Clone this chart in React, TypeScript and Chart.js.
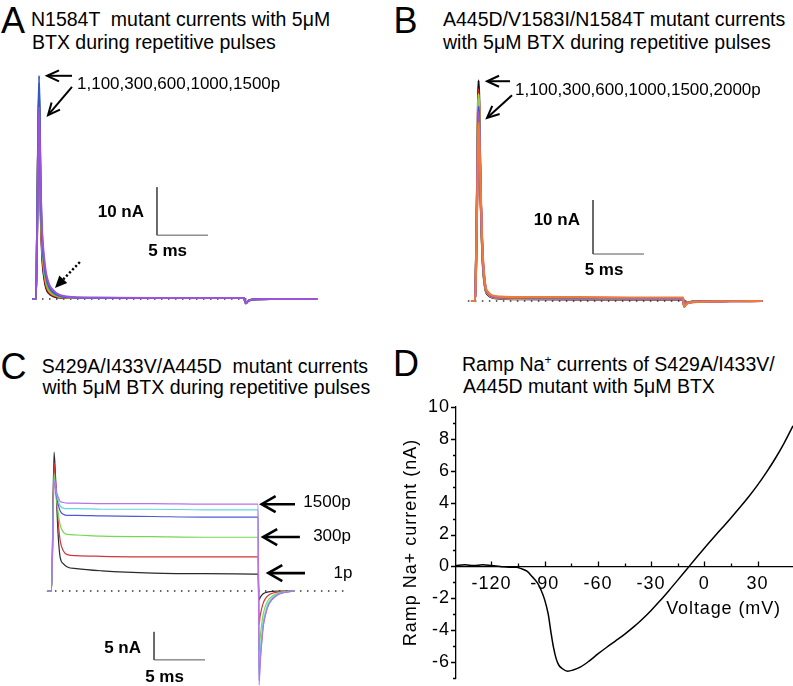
import React, { useEffect, useRef } from "react";
import { Chart, registerables } from "chart.js";

Chart.register(...registerables);

const FONT = "'Liberation Sans', Arial, Helvetica, sans-serif";
Chart.defaults.font.family = FONT;
Chart.defaults.color = "#000";

// ================= DATA =================
// Panel A: N1584T, time (ms) and current (nA) per pulse number
const aTime = [-0.3, 0, 0.15, 0.3, 0.45, 0.6, 0.8, 1.0, 1.3, 1.7, 2.2, 3.0, 4.0, 6, 12, 20.4, 20.55, 20.8, 21.3, 23, 27.5];
const aP1 = [0, 0, 22, 43, 19, 9, 4.4, 2.2, 1.1, 0.55, 0.3, 0.2, 0.2, 0.2, 0.2, 0.2, -0.9, -0.4, -0.1, 0, 0];
const aP100 = [0, 0, 22, 44, 20, 10, 5.0, 2.6, 1.3, 0.7, 0.4, 0.25, 0.2, 0.2, 0.2, 0.2, -0.9, -0.4, -0.1, 0, 0];
const aP300 = [0, 0, 22, 44, 21, 11, 5.8, 3.2, 1.6, 0.9, 0.5, 0.3, 0.25, 0.2, 0.2, 0.2, -0.9, -0.4, -0.1, 0, 0];
const aP600 = [0, 0, 22, 45, 22, 12, 6.5, 3.8, 2.0, 1.1, 0.6, 0.35, 0.25, 0.22, 0.2, 0.2, -0.9, -0.4, -0.1, 0, 0];
const aP1000 = [0, 0, 23, 46.5, 24, 13, 7.5, 4.5, 2.5, 1.4, 0.75, 0.4, 0.28, 0.25, 0.2, 0.2, -0.9, -0.4, -0.1, 0, 0];
const aP1500 = [0, 0, 20, 40, 24, 14, 8.5, 5.2, 3.0, 1.8, 0.95, 0.5, 0.3, 0.25, 0.2, 0.2, -0.9, -0.4, -0.1, 0, 0];
const aBaselineSpan = [-0.1, 27.9];

// Panel B: A445D/V1583I/N1584T
const bTime = [-0.3, 0, 0.2, 0.35, 0.55, 0.75, 1.0, 1.3, 1.7, 2.5, 5, 10, 15, 20.4, 20.5, 20.7, 21, 22, 25, 28.1];
const bP1 = [0, 0, 20, 40.8, 20, 7.6, 2.4, 1.1, 0.65, 0.45, 0.35, 0.3, 0.3, 0.3, -0.85, -0.4, -0.2, -0.1, 0, 0];
const bP100 = [0, 0, 20, 39.2, 20, 7.8, 2.5, 1.2, 0.7, 0.5, 0.4, 0.35, 0.35, 0.35, -0.9, -0.45, -0.2, -0.1, 0, 0];
const bP300 = [0, 0, 19, 38.3, 20, 8, 2.6, 1.25, 0.75, 0.55, 0.45, 0.4, 0.4, 0.4, -0.9, -0.45, -0.2, -0.1, 0, 0];
const bP600 = [0, 0, 19, 37.5, 20, 8, 2.7, 1.3, 0.8, 0.6, 0.5, 0.45, 0.45, 0.45, -0.9, -0.5, -0.25, -0.1, 0, 0];
const bP1000 = [0, 0, 18, 36, 20, 8.3, 2.8, 1.4, 0.85, 0.65, 0.55, 0.5, 0.5, 0.5, -1.0, -0.5, -0.25, -0.1, -0.05, 0];
const bP1500 = [0, 0, 18, 35, 20, 8.5, 2.9, 1.5, 0.9, 0.7, 0.6, 0.6, 0.55, 0.55, -1.0, -0.55, -0.3, -0.15, -0.05, 0];
const bP2000 = [0, 0, 17, 33, 21, 9, 3.1, 1.6, 1.0, 0.8, 0.7, 0.7, 0.65, 0.65, -1.1, -0.6, -0.3, -0.15, -0.05, 0];
const bBaselineSpan = [-0.7, 28.2];

// Panel C: S429A/I433V/A445D
const cTime = [-0.35, 0.05, 0.3, 0.5, 0.7, 0.9, 1.2, 1.6, 2.5, 5, 10, 15, 20.3, 20.4, 20.5, 20.65, 20.8, 21.0, 21.3, 21.7, 22.3, 23, 23.8];
const cP1 = [0, 0, 24.8, 18, 10, 6, 4.9, 4.3, 4.0, 3.6, 3.2, 3.1, 3.0, -1.6, -1.2, -0.8, -0.5, -0.3, -0.15, -0.05, 0, 0, 0];
const cP100 = [0, 0, 22.9, 18, 12.5, 9, 7.2, 6.5, 6.3, 6.2, 6.1, 6.1, 6.1, -6, -4.5, -3.2, -2.2, -1.4, -0.8, -0.4, -0.15, -0.05, 0];
const cP300 = [0, 0, 20.8, 17, 14, 11.8, 10.5, 10.1, 10.0, 9.8, 9.7, 9.6, 9.6, -11, -8.5, -6, -4.2, -2.8, -1.6, -0.9, -0.35, -0.1, 0];
const cP600 = [0, 0, 19.8, 17.5, 15.5, 14.3, 13.7, 13.5, 13.5, 13.4, 13.3, 13.2, 13.2, -16, -12.5, -9, -6.2, -4.3, -2.5, -1.4, -0.55, -0.2, 0];
const cP1000 = [0, 0, 19.8, 17.8, 16.2, 15.2, 14.8, 14.7, 14.7, 14.6, 14.6, 14.5, 14.5, -15, -11.5, -8.3, -5.7, -3.9, -2.2, -1.2, -0.5, -0.15, 0];
const cP1500 = [0, 0, 19.5, 18, 16.8, 16, 15.8, 15.7, 15.7, 15.6, 15.6, 15.5, 15.5, -16.8, -13, -9.5, -6.5, -4.5, -2.6, -1.5, -0.6, -0.2, 0];
const cBaselineSpan = [-0.3, 29.0];

// Panel D: ramp I-V
const rampVoltage = [-140, -135, -130, -125, -120, -115, -110, -106, -103, -100, -97, -94, -92, -90, -88, -86.5, -85, -83.5, -82, -80, -77, -74, -70, -65, -60, -55, -50, -45, -40, -35, -30, -25, -20, -15, -10, -5, 0, 5, 10, 15, 20, 25, 30, 35, 40, 45, 50];
const rampCurrent = [0.05, 0.1, 0.05, 0.1, 0.05, 0.0, -0.05, -0.05, -0.15, -0.3, -0.65, -1.05, -1.5, -2.1, -3.0, -4.1, -5.1, -5.8, -6.2, -6.42, -6.57, -6.5, -6.32, -5.94, -5.49, -5.07, -4.67, -4.26, -3.81, -3.31, -2.76, -2.16, -1.52, -0.86, -0.19, 0.48, 1.14, 1.78, 2.41, 3.04, 3.69, 4.37, 5.1, 5.9, 6.77, 7.74, 8.82];
const voltageTicks = [-120, -90, -60, -30, 0, 30];
const currentTicks = [-6, -4, -2, 0, 2, 4, 6, 8, 10];

// ================= HELPERS =================
type Box = { left: number; top: number; width: number; height: number };
type Frame = { box: Box; x0: number; y0: number; pxX: number; pxY: number };

function ranges(f: Frame) {
  const { box, x0, y0, pxX, pxY } = f;
  return {
    xmin: (box.left - x0) / pxX,
    xmax: (box.left + box.width - x0) / pxX,
    ymax: (y0 - box.top) / pxY,
    ymin: (y0 - (box.top + box.height)) / pxY,
  };
}

function trace(label: string, t: number[], v: number[], color: string, width: number, order: number) {
  return {
    label,
    data: t.map((x, i) => ({ x, y: v[i] })),
    borderColor: color,
    borderWidth: width,
    borderCapStyle: "round",
    borderJoinStyle: "round",
    pointRadius: 0,
    cubicInterpolationMode: "monotone",
    fill: false,
    order,
  };
}

function baseline(span: number[], order: number) {
  return {
    label: "baseline",
    data: span.map((x) => ({ x, y: 0 })),
    borderColor: "#333",
    borderWidth: 1.5,
    borderDash: [1.5, 5.5],
    borderCapStyle: "butt",
    pointRadius: 0,
    tension: 0,
    fill: false,
    order,
  };
}

function scaleBar(corner: { t: number; i: number; dt: number; di: number }, order: number) {
  return {
    label: "scale",
    data: [
      { x: corner.t, y: corner.i + corner.di },
      { x: corner.t, y: corner.i },
      { x: corner.t + corner.dt, y: corner.i },
    ],
    borderColor: "#555",
    borderWidth: 1,
    borderCapStyle: "butt",
    borderJoinStyle: "miter",
    pointRadius: 0,
    tension: 0,
    fill: false,
    order,
  };
}

type Arrow = { from: [number, number]; to: [number, number]; dotted?: boolean };
type Label = { at: [number, number]; text: string; align: CanvasTextAlign; bold?: boolean };
type ArrowStyle = { lw: number; head: number; half: number; font: number };

function annotate(arrows: Arrow[], labels: Label[], st: ArrowStyle) {
  return {
    id: "annotate",
    afterDatasetsDraw(chart: any) {
      const ctx: CanvasRenderingContext2D = chart.ctx;
      const xs = chart.scales.x;
      const ys = chart.scales.y;
      const P = (p: [number, number]) => [xs.getPixelForValue(p[0]), ys.getPixelForValue(p[1])];
      ctx.save();
      ctx.strokeStyle = "#000";
      ctx.fillStyle = "#000";
      for (const a of arrows) {
        const [fx, fy] = P(a.from);
        const [tx, ty] = P(a.to);
        const ang = Math.atan2(ty - fy, tx - fx);
        const back = ang + Math.PI;
        const spread = Math.atan2(st.half, st.head);
        const L = Math.hypot(st.head, st.half);
        const p1 = [tx + L * Math.cos(back - spread), ty + L * Math.sin(back - spread)];
        const p2 = [tx + L * Math.cos(back + spread), ty + L * Math.sin(back + spread)];
        if (a.dotted) {
          const hx = tx + st.head * Math.cos(back);
          const hy = ty + st.head * Math.sin(back);
          ctx.setLineDash([2.2, 2.2]);
          ctx.lineWidth = 2.4;
          ctx.beginPath();
          ctx.moveTo(fx, fy);
          ctx.lineTo(hx, hy);
          ctx.stroke();
          ctx.setLineDash([]);
          ctx.beginPath();
          ctx.moveTo(tx, ty);
          ctx.lineTo(p1[0], p1[1]);
          ctx.lineTo(p2[0], p2[1]);
          ctx.closePath();
          ctx.fill();
        } else {
          ctx.lineWidth = st.lw;
          ctx.lineJoin = "miter";
          ctx.beginPath();
          ctx.moveTo(fx, fy);
          ctx.lineTo(tx + 1 * Math.cos(back), ty + 1 * Math.sin(back));
          ctx.stroke();
          ctx.beginPath();
          ctx.moveTo(p1[0], p1[1]);
          ctx.lineTo(tx, ty);
          ctx.lineTo(p2[0], p2[1]);
          ctx.stroke();
        }
      }
      for (const l of labels) {
        const [x, y] = P(l.at);
        ctx.font = `${l.bold ? "bold " : ""}${st.font}px ${FONT}`;
        ctx.textAlign = l.align;
        ctx.textBaseline = "middle";
        ctx.fillText(l.text, x, y);
      }
      ctx.restore();
    },
  };
}

function traceConfig(frame: Frame, datasets: any[], plugin: any) {
  const r = ranges(frame);
  return {
    type: "line",
    data: { datasets },
    options: {
      animation: false,
      responsive: false,
      events: [],
      layout: { padding: 0 },
      plugins: { legend: { display: false }, tooltip: { enabled: false }, title: { display: false } },
      scales: {
        x: { type: "linear", min: r.xmin, max: r.xmax, display: false },
        y: { type: "linear", min: r.ymin, max: r.ymax, display: false },
      },
    },
    plugins: [plugin],
  };
}

// ================= PANEL CONFIGS =================
const frameA: Frame = { box: { left: 0, top: 55, width: 400, height: 265 }, x0: 36, y0: 299, pxX: 10.2, pxY: 4.8 };
const frameB: Frame = { box: { left: 400, top: 55, width: 393, height: 265 }, x0: 475, y0: 301, pxX: 10.2, pxY: 5.4 };
const frameC: Frame = { box: { left: 0, top: 420, width: 400, height: 266 }, x0: 51, y0: 591, pxX: 10.2, pxY: 5.6 };
const boxD: Box = { left: 400, top: 392, width: 393, height: 294 };

const styleAB: ArrowStyle = { lw: 2, head: 12, half: 5.5, font: 17 };
const styleC: ArrowStyle = { lw: 2.6, head: 14, half: 8, font: 17 };

function configA() {
  const ds = [
    trace("1500p", aTime, aP1500, "#9b52dc", 2, 0),
    trace("1000p", aTime, aP1000, "#3556cc", 2, 1),
    trace("600p", aTime, aP600, "#4fbf5a", 2, 2),
    trace("300p", aTime, aP300, "#e0b020", 2, 3),
    trace("100p", aTime, aP100, "#d02020", 2, 4),
    trace("1p", aTime, aP1, "#111111", 2, 5),
    scaleBar({ t: 11.86, i: 13.3, dt: 5, di: 10 }, 6),
    baseline(aBaselineSpan, 7),
  ];
  const plugin = annotate(
    [
      { from: [3.53, 46.5], to: [1.08, 46.5] },
      { from: [3.53, 44.2], to: [1.18, 38.3] },
      { from: [4.3, 7.7], to: [1.86, 2.3], dotted: true },
    ],
    [
      { at: [4.02, 44.8], text: "1,100,300,600,1000,1500p", align: "left" },
      { at: [10.59, 18.1], text: "10 nA", align: "right", bold: true },
      { at: [12.9, 10.0], text: "5 ms", align: "center", bold: true },
    ],
    styleAB
  );
  return traceConfig(frameA, ds, plugin);
}

function configB() {
  const ds = [
    trace("2000p", bTime, bP2000, "#f07a3a", 2.2, 0),
    trace("1500p", bTime, bP1500, "#a050e0", 2.2, 1),
    trace("1000p", bTime, bP1000, "#4050d0", 2.2, 2),
    trace("600p", bTime, bP600, "#90d040", 2.2, 3),
    trace("300p", bTime, bP300, "#d8c020", 2.2, 4),
    trace("100p", bTime, bP100, "#d02020", 2.2, 5),
    trace("1p", bTime, bP1, "#111111", 2.2, 6),
    scaleBar({ t: 11.57, i: 8.7, dt: 5, di: 10 }, 7),
    baseline(bBaselineSpan, 8),
  ];
  const plugin = annotate(
    [
      { from: [3.43, 40.7], to: [1.18, 40.7] },
      { from: [3.63, 38.1], to: [1.18, 33.9] },
    ],
    [
      { at: [3.92, 39.1], text: "1,100,300,600,1000,1500,2000p", align: "left" },
      { at: [10.29, 15.0], text: "10 nA", align: "right", bold: true },
      { at: [12.65, 5.74], text: "5 ms", align: "center", bold: true },
    ],
    styleAB
  );
  return traceConfig(frameB, ds, plugin);
}

function configC() {
  const ds = [
    trace("1500p", cTime, cP1500, "#b874e6", 1.2, 0),
    trace("1000p", cTime, cP1000, "#66d6dc", 1.2, 1),
    trace("600p", cTime, cP600, "#5058d6", 1.2, 2),
    trace("300p", cTime, cP300, "#74d850", 1.2, 3),
    trace("100p", cTime, cP100, "#d0353f", 1.2, 4),
    trace("1p", cTime, cP1, "#2a2a2a", 1.2, 5),
    scaleBar({ t: 10.1, i: -12.3, dt: 5, di: 5 }, 6),
    baseline(cBaselineSpan, 7),
  ];
  const plugin = annotate(
    [
      { from: [23.92, 15.5], to: [20.65, 15.5] },
      { from: [24.4, 9.64], to: [20.8, 9.64] },
      { from: [24.9, 3.2], to: [21.3, 3.2] },
    ],
    [
      { at: [24.74, 15.77], text: "1500p", align: "left" },
      { at: [25.7, 9.7], text: "300p", align: "left" },
      { at: [27.7, 3.2], text: "1p", align: "left" },
      { at: [8.82, -10.2], text: "5 nA", align: "right", bold: true },
      { at: [11.13, -15.36], text: "5 ms", align: "center", bold: true },
    ],
    styleC
  );
  return traceConfig(frameC, ds, plugin);
}

const D_SPACING = "1px";
const ivTicks = {
  id: "ivTicks",
  beforeLayout(chart: any) {
    (chart.ctx as any).letterSpacing = D_SPACING;
  },
  beforeDraw(chart: any) {
    (chart.ctx as any).letterSpacing = D_SPACING;
  },
  afterDraw(chart: any) {
    const ctx: CanvasRenderingContext2D = chart.ctx;
    const xs = chart.scales.x;
    const ys = chart.scales.y;
    const y0 = ys.getPixelForValue(0);
    const left = chart.chartArea.left;
    ctx.save();
    ctx.strokeStyle = "#000";
    ctx.lineWidth = 1.3;
    ctx.beginPath();
    for (const t of xs.ticks) {
      const v = t.value;
      if (Math.abs(v % 15) > 1e-6) continue;
      const len = voltageTicks.includes(v) ? 5 : 3;
      const px = Math.round(xs.getPixelForValue(v)) + 0.5;
      ctx.moveTo(px, y0);
      ctx.lineTo(px, y0 - len);
    }
    for (const t of ys.ticks) {
      const v = t.value;
      const len = currentTicks.includes(v) ? 5 : 3;
      const py = Math.round(ys.getPixelForValue(v)) + 0.5;
      ctx.moveTo(left, py);
      ctx.lineTo(left - len, py);
    }
    ctx.stroke();
    // x-axis title, right-aligned a little inside the axis end
    ctx.fillStyle = "#000";
    ctx.font = `18px ${FONT}`;
    (ctx as any).letterSpacing = "0.9px";
    ctx.textAlign = "right";
    ctx.textBaseline = "middle";
    ctx.fillText("Voltage (mV)", chart.chartArea.right - 12, y0 + 43);
    ctx.restore();
  },
};

function configD() {
  return {
    type: "line",
    data: {
      datasets: [
        {
          label: "Ramp current",
          data: rampVoltage.map((x, i) => ({ x, y: rampCurrent[i] })),
          borderColor: "#000",
          borderWidth: 1.5,
          pointRadius: 0,
          cubicInterpolationMode: "monotone",
          fill: false,
        },
      ],
    },
    options: {
      animation: false,
      responsive: false,
      events: [],
      layout: { padding: { left: 0, right: 0, top: 15, bottom: 8 } },
      plugins: { legend: { display: false }, tooltip: { enabled: false } },
      scales: {
        x: {
          type: "linear",
          min: -140,
          max: 50,
          position: { y: 0 },
          grid: { display: false, drawTicks: false },
          border: { display: true, color: "#000", width: 1.3 },
          ticks: {
            stepSize: 15,
            autoSkip: false,
            maxRotation: 0,
            padding: 7,
            color: "#000",
            font: { size: 18 },
            callback: (v: number) => (voltageTicks.includes(v) ? String(v) : ""),
          },
          title: { display: false },
          afterFit: (s: any) => {
            s.paddingLeft = 0;
            s.paddingRight = 0;
          },
        },
        y: {
          type: "linear",
          min: -7,
          max: 10,
          position: "left",
          grid: { display: false, drawTicks: false },
          border: { display: true, color: "#000", width: 1.3 },
          ticks: {
            stepSize: 1,
            autoSkip: false,
            padding: 6,
            color: "#000",
            font: { size: 18 },
            callback: (v: number) => (currentTicks.includes(v) ? String(v) : ""),
          },
          title: { display: true, text: "Ramp Na+ current (nA)", color: "#000", font: { size: 18 }, padding: { top: 0, bottom: 0 } },
          afterFit: (s: any) => {
            s.width = 56;
            s.paddingTop = 0;
            s.paddingBottom = 0;
          },
        },
      },
    },
    plugins: [ivTicks],
  };
}

// ================= COMPONENTS =================
function ChartCanvas({ box, make }: { box: Box; make: () => any }) {
  const ref = useRef<HTMLCanvasElement>(null);
  useEffect(() => {
    const chart = new Chart(ref.current as HTMLCanvasElement, make());
    return () => chart.destroy();
  }, []);
  return (
    <canvas
      ref={ref}
      width={box.width}
      height={box.height}
      style={{ position: "absolute", left: box.left, top: box.top, width: box.width, height: box.height }}
    />
  );
}

function Txt({ x, base, size, children }: { x: number; base: number; size: number; children: any }) {
  return (
    <div
      style={{
        position: "absolute",
        left: x,
        top: base - 0.8465 * size,
        fontFamily: FONT,
        fontSize: size,
        lineHeight: `${size}px`,
        whiteSpace: "pre",
        color: "#000",
      }}
    >
      {children}
    </div>
  );
}

export default function App() {
  const T = 19.5;
  const L = 36;
  return (
    <div style={{ position: "absolute", left: 0, top: 0, width: 793, height: 686, overflow: "hidden", background: "#fff" }}>
      <Txt x={1} base={33} size={L}>A</Txt>
      <Txt x={31} base={26.7} size={T}>N1584T  mutant currents with 5μM</Txt>
      <Txt x={32} base={49.3} size={T}>BTX during repetitive pulses</Txt>

      <Txt x={393.5} base={33} size={L}>B</Txt>
      <Txt x={443} base={26.7} size={T}>A445D/V1583I/N1584T mutant currents</Txt>
      <Txt x={443} base={49.3} size={T}>with 5μM BTX during repetitive pulses</Txt>

      <Txt x={0.5} base={379} size={L}>C</Txt>
      <Txt x={41.8} base={373.3} size={T}>S429A/I433V/A445D  mutant currents</Txt>
      <Txt x={42.5} base={395} size={T}>with 5μM BTX during repetitive pulses</Txt>

      <Txt x={393} base={376} size={L}>D</Txt>
      <Txt x={462} base={371.7} size={T}>
        Ramp Na<span style={{ fontSize: 12, position: "relative", top: -7 }}>+</span> currents of S429A/I433V/
      </Txt>
      <Txt x={463} base={393.3} size={T}>A445D mutant with 5μM BTX</Txt>

      <ChartCanvas box={frameA.box} make={configA} />
      <ChartCanvas box={frameB.box} make={configB} />
      <ChartCanvas box={frameC.box} make={configC} />
      <ChartCanvas box={boxD} make={configD} />
    </div>
  );
}
